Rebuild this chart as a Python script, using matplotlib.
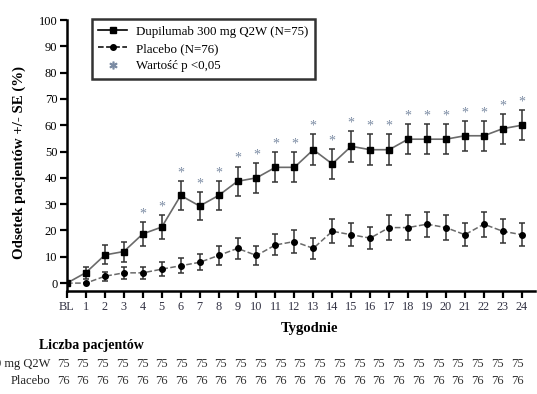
import numpy as np
import matplotlib
matplotlib.use('Agg')
import matplotlib.pyplot as plt
from matplotlib.lines import Line2D

plt.rcParams['font.family'] = ['Liberation Serif', 'DejaVu Serif']

# Data
weeks = np.arange(0, 25)
week_labels = ['BL'] + [str(w) for w in range(1, 25)]

dupi = [0, 4.0, 10.7, 12.0, 18.7, 21.3, 33.3, 29.3, 33.3, 38.7, 40.0, 44.0, 44.0,
        50.7, 45.3, 52.0, 50.7, 50.7, 54.7, 54.7, 54.7, 56.0, 56.0, 58.7, 60.0]
dupi_se = [0, 2.3, 3.6, 3.8, 4.5, 4.7, 5.4, 5.3, 5.4, 5.6, 5.7, 5.7, 5.7,
           5.8, 5.7, 5.8, 5.8, 5.8, 5.8, 5.8, 5.8, 5.7, 5.7, 5.7, 5.7]
plac = [0, 0, 2.6, 3.9, 3.9, 5.3, 6.6, 7.9, 10.5, 13.2, 10.5, 14.5, 15.8,
        13.2, 19.7, 18.4, 17.1, 21.1, 21.1, 22.4, 21.1, 18.4, 22.4, 19.7, 18.4]
plac_se = [0, 0, 1.8, 2.2, 2.2, 2.6, 2.8, 3.1, 3.5, 3.9, 3.5, 4.0, 4.2,
           3.9, 4.6, 4.4, 4.3, 4.7, 4.7, 4.8, 4.7, 4.4, 4.8, 4.6, 4.4]
sig_weeks = list(range(4, 25))

n_dupi = [75] * 24
n_plac = [76] * 24

W, H = 537, 394
fig = plt.figure(figsize=(W / 100, H / 100), dpi=100)
ax = fig.add_axes([67 / W, 1 - 291 / H, (535 - 67) / W, (291 - 20) / H])

ax.errorbar(weeks, dupi, yerr=dupi_se, color='#6a6a6a', lw=1.2, marker='s', ms=5,
            mfc='black', mec='black', ecolor='#333333', elinewidth=1.1, capsize=2.5,
            capthick=1.1, zorder=3)
ax.errorbar(weeks, plac, yerr=plac_se, color='#6a6a6a', lw=1.1, ls='--', marker='o', ms=4,
            mfc='black', mec='black', ecolor='#333333', elinewidth=1.1, capsize=2.5,
            capthick=1.1, zorder=3)

for w in sig_weeks:
    ax.text(w, dupi[w] + dupi_se[w] + 0.6, '*', ha='center', va='bottom',
            fontsize=10, color='#7b8ba3')

ax.set_xlim(0, 24.7)
ax.set_ylim(-3, 100)
ax.set_yticks(np.arange(0, 101, 10))
ax.set_xticks(weeks)
ax.set_xticklabels(week_labels)
for s in ['top', 'right']:
    ax.spines[s].set_visible(False)
for s in ['left', 'bottom']:
    ax.spines[s].set_linewidth(1.8)
ax.tick_params(axis='both', direction='out', width=1.6, length=5, labelsize=9,
               colors='black', pad=2)
ax.tick_params(axis='x', labelcolor='#333344', labelsize=8.8)

ax.set_ylabel('Odsetek pacjentów +/- SE (%)', fontsize=10.7, fontweight='bold', labelpad=4)
ax.yaxis.set_label_coords(-0.088, 0.476)
ax.set_xlabel('Tygodnie', fontsize=10.5, fontweight='bold', labelpad=2)
ax.xaxis.set_label_coords(0.519, -0.115)

handles = [
    Line2D([], [], color='black', lw=1.2, marker='s', ms=5),
    Line2D([], [], color='black', lw=1.1, ls='--', marker='o', ms=4),
    Line2D([], [], color='#7b8ba3', lw=0, marker='$*$', ms=5),
]
labels = ['Dupilumab 300 mg Q2W (N=75)', 'Placebo (N=76)', 'Wartość p <0,05']
leg = ax.legend(handles, labels, loc='upper left', bbox_to_anchor=(92 / W, 1 - 19 / H),
                bbox_transform=fig.transFigure, fontsize=9.3, frameon=True, fancybox=False,
                handlelength=2.2, borderpad=0.5, labelspacing=0.42, handletextpad=0.7,
                borderaxespad=0)
leg.get_frame().set_edgecolor('black')
leg.get_frame().set_linewidth(1.8)

# Patient counts table
fig.text(39 / W, 1 - 346 / H, 'Liczba pacjentów', fontsize=10, fontweight='bold',
         ha='left', va='center')
fig.text(50 / W, 1 - 364 / H, 'Dupilumab 300 mg Q2W', fontsize=9, ha='right', va='center',
         color='#222222')
fig.text(50 / W, 1 - 381 / H, 'Placebo', fontsize=9, ha='right', va='center',
         color='#222222')
xs = np.linspace(63, 517, len(n_dupi))
for x, a, b in zip(xs, n_dupi, n_plac):
    fig.text(x / W, 1 - 364 / H, str(a), fontsize=9, ha='center', va='center', color='#333333')
    fig.text(x / W, 1 - 381 / H, str(b), fontsize=9, ha='center', va='center', color='#333333')

fig.savefig('out.png', dpi=100)
